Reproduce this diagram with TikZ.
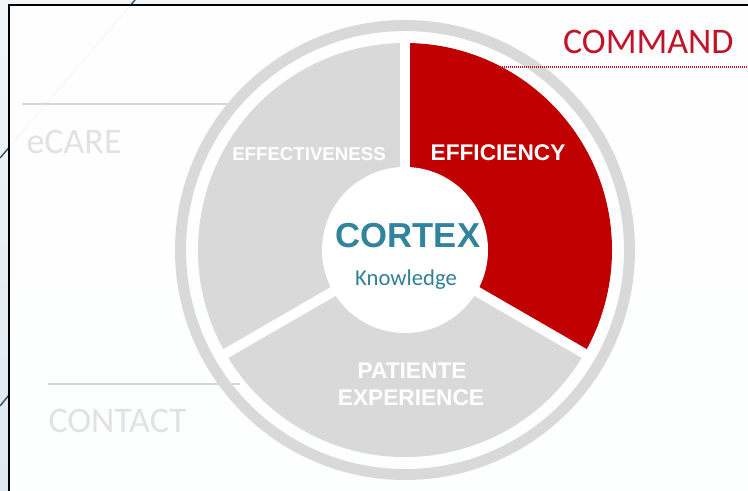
\documentclass[tikz,border=0pt]{standalone}
\usepackage{fontspec}
\setmainfont{Liberation Sans}
\newfontfamily\carlito{Carlito}

\tikzset{every picture/.style={line width=0.75pt}}
\tikzset{
  seglabel/.style={anchor=base, inner sep=0.75pt, color=white, font=\bfseries\fontsize{17}{20}\selectfont},
  sidelabel/.style={anchor=base west, inner sep=0.75pt, color={rgb, 255:red, 226; green, 226; blue, 226 }, font=\carlito\fontsize{27}{30}\selectfont},
  sideline/.style={color={rgb, 255:red, 214; green, 214; blue, 214 }, line width=1.5},
  gap/.style={color=white, line width=7.5},
  slideline/.style={color={rgb, 255:red, 50; green, 88; blue, 112 }, line width=1.1},
}

\begin{document}
\begin{tikzpicture}[x=0.75pt,y=0.75pt,yscale=-1,xscale=1]
        \useasboundingbox (0,0) rectangle (748,490);

        %Shape: Rectangle [id:dp_slide] 
        \shade [top color={rgb, 255:red, 241; green, 245; blue, 248 }, bottom color={rgb, 255:red, 221; green, 232; blue, 239 }] (0,0) rectangle (748,490);
        %Straight Lines [id:da_slideA] 
        \draw [slideline] (0,158) -- (135,0);
        %Straight Lines [id:da_slideB] 
        \draw [slideline] (0,406) -- (9,395);
        %Shape: Rectangle [id:dp_frame] 
        \fill [white, fill opacity=0.96] (9,5) rectangle (760,500);
        \draw [line width=1.5] (9,5) rectangle (760,500);

        %Straight Lines [id:da_ecare] 
        \draw [sideline] (22,104) -- (240,104);
        %Straight Lines [id:da_contact] 
        \draw [sideline] (48,384) -- (240,384);

        %Shape: Circle [id:dp_ring] 
        \draw [color={rgb, 255:red, 217; green, 217; blue, 217 }, line width=8.25] (405,250) circle [radius=224.5];

        %Shape: Arc [id:dp_efficiency] 
        \fill [color={rgb, 255:red, 192; green, 0; blue, 0 }] (405,250) -- ++(-90:207) arc [start angle=-90, end angle=30, radius=207] -- cycle;
        %Shape: Arc [id:dp_effectiveness] 
        \fill [color={rgb, 255:red, 217; green, 217; blue, 217 }] (405,250) -- ++(150:207) arc [start angle=150, end angle=270, radius=207] -- cycle;
        %Shape: Arc [id:dp_experience] 
        \fill [color={rgb, 255:red, 217; green, 217; blue, 217 }] (405,250) -- ++(30:207) arc [start angle=30, end angle=150, radius=207] -- cycle;

        %Straight Lines [id:da_gaps] 
        \foreach \a in {270,30,150} {
          \draw [gap] (405,250) -- ++(\a:214);
        }
        %Shape: Circle [id:dp_core] 
        \fill [white] (405,250) circle [radius=83];

        % Text Node
        \draw (408,247) node [anchor=base][inner sep=0.75pt] [color={rgb, 255:red, 49; green, 132; blue, 155 }, font=\bfseries\fontsize{26}{30}\selectfont] (cortex) {CORTEX};
        % Text Node
        \draw (406,285) node [anchor=base][inner sep=0.75pt] [color={rgb, 255:red, 50; green, 128; blue, 150 }, font=\carlito\fontsize{17}{20}\selectfont] (knowledge) {Knowledge};
        % Text Node
        \draw (309,160) node [seglabel, font=\bfseries\fontsize{14}{17}\selectfont] (effectiveness) {EFFECTIVENESS};
        % Text Node
        \draw (498,160) node [seglabel] (efficiency) {EFFICIENCY};
        % Text Node
        \draw (412,378) node [seglabel] (patiente) {PATIENTE};
        % Text Node
        \draw (411,405) node [seglabel] (experience) {EXPERIENCE};

        % Text Node
        \draw (25,153) node [sidelabel] (ecare) {eCARE};
        % Text Node
        \draw (47,432) node [sidelabel] (contact) {CONTACT};
        % Text Node
        \draw (735,53) node [anchor=base east][inner sep=0.75pt] [color={rgb, 255:red, 192; green, 20; blue, 42 }, font=\carlito\fontsize{27}{30}\selectfont] (command) {COMMAND};
        %Straight Lines [id:da_command] 
        \draw [color={rgb, 255:red, 192; green, 20; blue, 42 }, line width=1.5, dash pattern={on 0.9pt off 0.6pt}] (500,67) -- (748,67);

    \end{tikzpicture}
\end{document}
